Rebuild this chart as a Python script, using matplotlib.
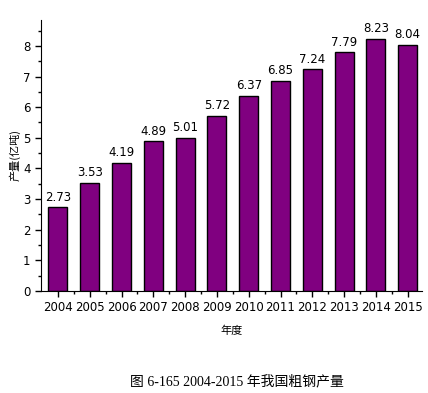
import numpy as np
import matplotlib.pyplot as plt
from matplotlib.ticker import MultipleLocator

plt.rcParams['font.family'] = ['DejaVu Sans', 'Noto Sans CJK SC']

years = ['2004', '2005', '2006', '2007', '2008', '2009',
         '2010', '2011', '2012', '2013', '2014', '2015']
output = [2.73, 3.53, 4.19, 4.89, 5.01, 5.72, 6.37, 6.85, 7.24, 7.79, 8.23, 8.04]

fig = plt.figure(figsize=(4.28, 3.93), dpi=100)
ax = fig.add_axes([0.096, 0.2595, 0.89, 0.69])

x = np.arange(len(years))
ax.bar(x, output, width=0.6, color='#800080', edgecolor='black', linewidth=1)
for xi, v in zip(x, output):
    ax.text(xi, v + 0.12, f'{v:.2f}', ha='center', va='bottom', fontsize=8.5)

ax.set_xlim(-0.53, 11.45)
ax.set_ylim(0, 8.85)
ax.set_xticks(x)
ax.set_xticklabels(years, fontsize=8.5)
ax.set_xticks(x[:-1] + 0.5, minor=True)
ax.yaxis.set_major_locator(MultipleLocator(1))
ax.yaxis.set_minor_locator(MultipleLocator(0.5))
ax.tick_params(axis='y', labelsize=8.5)
ax.tick_params(which='major', length=4, width=1)
ax.tick_params(which='minor', length=2.5, width=1)
for s in ['top', 'right']:
    ax.spines[s].set_visible(False)

ax.set_ylabel('产量(亿吨)', fontsize=8, family=['Noto Sans CJK SC'], labelpad=2)
ax.set_xlabel('年度', fontsize=8, family=['Noto Sans CJK SC'], labelpad=8)

fig.text(0.553, 0.012, '图 6-165 2004-2015 年我国粗钢产量', ha='center', va='bottom',
         fontsize=10, family=['Liberation Serif', 'Noto Sans CJK SC'])

fig.savefig('out.png', dpi=100)
